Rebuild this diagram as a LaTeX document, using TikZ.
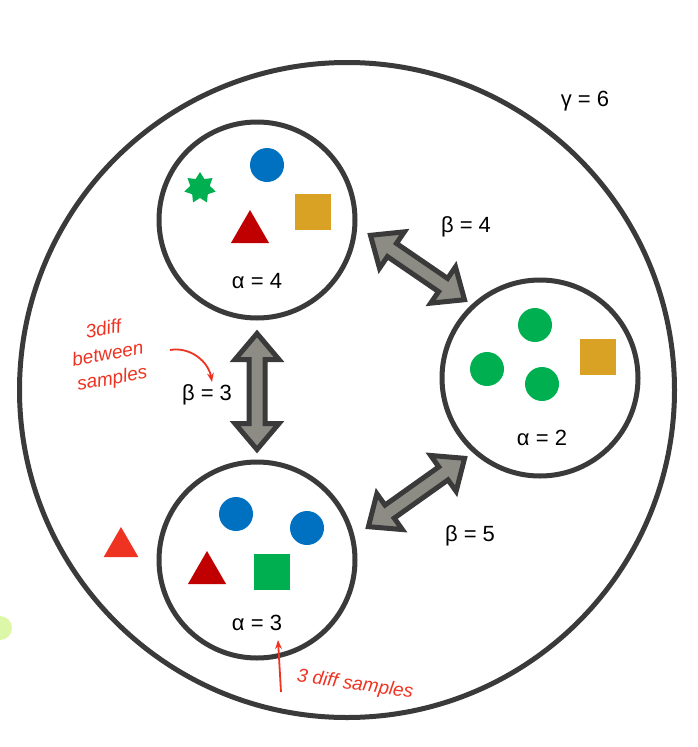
\documentclass[tikz,border=0pt]{standalone}
\usepackage{fontspec}
\setmainfont{Liberation Sans}
\usetikzlibrary{shapes.geometric,arrows.meta}
\definecolor{ring}{HTML}{3A3A3A}
\definecolor{arrfill}{HTML}{8C8C84}
\definecolor{cblue}{HTML}{0070C0}
\definecolor{cgreen}{HTML}{00B050}
\definecolor{cred}{HTML}{C00000}
\definecolor{cgold}{HTML}{DAA225}
\definecolor{hand}{HTML}{EE3322}
\definecolor{lime}{HTML}{DDF7A8}
\tikzset{
  ringst/.style={draw=ring,line width=5pt,fill=white},
  arrst/.style={draw=ring,line width=5pt,fill=arrfill,line join=miter},
  lab/.style={font=\fontsize{22}{24}\selectfont,text=black},
  dot/.style={circle,fill=#1,minimum size=34pt,inner sep=0pt},
  sq/.style={rectangle,fill=#1,minimum size=36pt,inner sep=0pt},
  tri/.style={regular polygon,regular polygon sides=3,fill=#1,minimum size=44pt,inner sep=0pt},
  handtxt/.style={text=hand,font=\itshape\fontsize{19}{25}\selectfont,align=center},
  handarr/.style={draw=hand,line width=1.8pt,-{Stealth[length=9pt]}}
}
\newcommand\dblarr[3]{%
  \draw[arrst,shift={(#1)},rotate=#2]
   (-#3,0) -- (-#3+26,22) -- (-#3+26,8) -- (#3-26,8) -- (#3-26,22) -- (#3,0)
   -- (#3-26,-22) -- (#3-26,-8) -- (-#3+26,-8) -- (-#3+26,-22) -- cycle;}
\begin{document}
\begin{tikzpicture}[x=1pt,y=-1pt]
\useasboundingbox (0,0) rectangle (697,747);
\fill[lime] (0,628) circle (12);
\node[ringst,circle,minimum size=655pt,inner sep=0pt] (big) at (347,390) {};
\node[ringst,circle,minimum size=196pt,inner sep=0pt] (top) at (257,220) {};
\node[ringst,circle,minimum size=196pt,inner sep=0pt] (right) at (540,378) {};
\node[ringst,circle,minimum size=196pt,inner sep=0pt] (bot) at (257,560) {};
% arrows
\dblarr{417.5,267.5}{-34.4}{57}
\dblarr{257,391.5}{90}{58}
\dblarr{416.5,492.5}{35.4}{59}
% labels
\node[lab] (g) at (585,101) {γ = 6};
\node[lab] (b4) at (466,227) {β = 4};
\node[lab] (b3) at (207,395) {β = 3};
\node[lab] (b5) at (470,536) {β = 5};
\node[lab] (a4) at (257,281) {α = 4};
\node[lab] (a2) at (542,438) {α = 2};
\node[lab] (a3) at (257,623) {α = 3};
% top shapes
\node[star,star points=7,star point ratio=1.6,fill=cgreen,minimum size=32pt,inner sep=0pt] (s1) at (200,188) {};
\node[dot=cblue] (t1) at (267,165) {};
\node[tri=cred] (t2) at (250,232) {};
\node[sq=cgold] (t3) at (313,212) {};
% right shapes
\node[dot=cgreen] (r1) at (535,325) {};
\node[dot=cgreen] (r2) at (487,369) {};
\node[dot=cgreen] (r3) at (542,384) {};
\node[sq=cgold] (r4) at (598,357) {};
% bottom shapes
\node[dot=cblue] (u1) at (236,514) {};
\node[dot=cblue] (u2) at (307,528) {};
\node[tri=cred] (u3) at (207,573) {};
\node[sq=cgreen] (u4) at (272,572) {};
\node[tri=hand,minimum size=40pt] (x1) at (121,547) {};
% handwriting
\node[handtxt,rotate=10] (h1) at (108,355) {3diff\\between\\samples};
\coordinate (h1e) at (212,382);
\draw[handarr] (170,350) to[out=10,in=100] (h1e);
\node[handtxt,rotate=-8] (h2) at (355,685) {3 diff samples};
\coordinate (h2e) at (278,640);
\draw[handarr] (281,692) -- (h2e);
\end{tikzpicture}
\end{document}
